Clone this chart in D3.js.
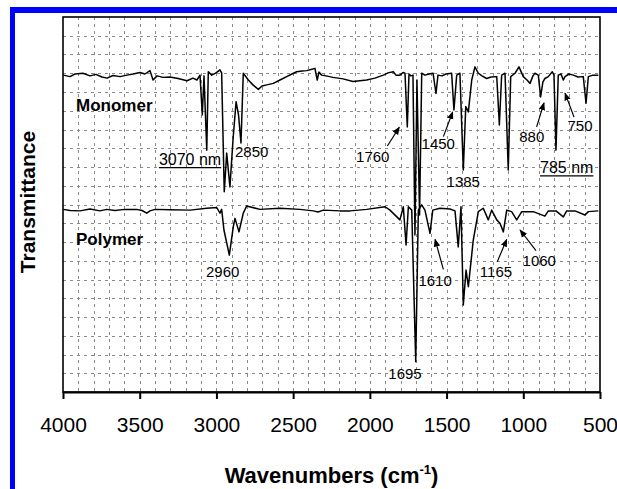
<!DOCTYPE html>
<html><head><meta charset="utf-8">
<script src="https://cdn.jsdelivr.net/npm/d3@7"></script>
<style>
body{margin:0;background:#fff;}
svg{display:block;}
text{font-family:Arial,"Liberation Sans",sans-serif;fill:#000;}
</style></head>
<body>
<svg id="c" width="617" height="489"></svg>
<script>
// ---- data (wavenumber on the drawn axis, transmittance in arbitrary units 0-100) ----
const xTicks = [4000,3500,3000,2500,2000,1500,1000,500];
const xTickLabels = ["4000","3500","3000","2500","2000","1500","1000","500"];
const seriesNames = ["Monomer","Polymer"];

const monomerWn = [3998,3954,3922,3870,3824,3785,3746,3713,3674,3628,3583,3544,3498,3466,3433,3413,3387,3348,3303,3250,3192,3153,3127,3107,3092,3081,3063,3053,3031,3003,2977,2966,2949,2933,2912,2892,2872,2856,2840,2825,2792,2762,2727,2703,2672,2629,2586,2542,2508,2477,2442,2412,2384,2358,2343,2332,2314,2286,2240,2175,2110,2021,1967,1912,1882,1847,1830,1804,1784,1771,1756,1745,1732,1719,1706,1693,1676,1662,1641,1615,1588,1569,1556,1530,1504,1467,1452,1434,1413,1391,1375,1358,1336,1315,1293,1269,1239,1210,1173,1156,1141,1119,1098,1082,1054,1028,1000,976,956,937,924,902,887,872,859,837,811,800,787,772,754,739,728,702,674,643,609,591,576,546,511];
const monomerT = [84.5,84.1,84.8,85.0,84.3,84.7,84.0,83.7,84.4,84.1,84.5,84.8,85.2,84.8,85.7,83.2,84.3,83.9,84.0,83.6,83.0,83.7,83.2,84.5,73.9,84.3,64.5,85.4,84.5,85.1,85.9,85.1,53.4,63.7,54.7,67.2,77.4,73.9,66.4,85.0,83.2,81.9,80.7,81.6,81.9,82.3,83.2,84.1,84.8,85.4,85.6,85.7,86.0,86.3,83.2,85.3,84.5,84.3,83.9,83.5,82.8,83.2,83.7,84.5,85.1,85.4,84.5,84.5,85.2,85.0,70.7,84.8,84.3,84.5,41.9,83.2,47.2,85.0,84.5,84.8,85.0,79.6,84.5,84.3,84.8,85.0,75.2,84.5,85.0,59.2,76.1,74.7,83.2,86.7,85.0,84.3,83.6,84.0,84.1,71.2,84.5,85.0,59.2,84.1,85.0,86.7,84.1,83.2,82.3,84.3,85.0,84.5,78.7,82.7,83.6,84.1,85.4,84.5,64.5,84.5,84.8,83.2,84.1,84.8,84.5,84.0,84.1,77.0,84.1,84.5,84.5];

const polymerWn = [3998,3954,3889,3824,3759,3715,3661,3596,3520,3485,3454,3433,3400,3303,3172,3063,2998,2977,2966,2951,2916,2890,2879,2853,2825,2803,2716,2586,2456,2369,2338,2303,2195,2129,2021,1901,1869,1804,1782,1764,1749,1727,1701,1684,1662,1641,1608,1590,1543,1478,1445,1424,1406,1391,1373,1358,1326,1293,1261,1228,1206,1173,1152,1130,1108,1076,1043,1010,935,859,837,787,739,717,663,598,576,511];
const polymerT = [48.7,48.4,48.3,48.8,48.3,48.7,48.4,48.7,48.7,48.4,47.7,48.3,48.7,48.6,48.5,49.0,49.2,47.7,48.7,43.2,36.5,44.1,46.3,42.7,47.7,49.6,48.7,49.0,48.7,48.3,48.0,48.5,48.3,48.3,48.7,49.4,48.5,45.9,49.4,39.2,49.4,48.5,8.1,48.5,49.9,48.5,42.3,48.5,49.0,48.8,48.3,38.7,49.4,23.2,32.5,28.1,40.5,48.1,49.0,45.9,48.5,45.9,45.0,42.7,48.5,48.1,45.9,48.1,48.1,46.9,48.3,48.3,46.7,48.3,48.3,47.2,48.1,48.3];

// peak labels: text, wavenumber position, transmittance position (baseline), underlined?
const peakText = ["3070 nm","2850","2960","1760","1450","1385","880","750","785 nm","1610","1165","1060","1695"];
const peakWn   = [3172,2770,2959,1981,1554,1391,945,630,717,1575,1178,896,1771];
const peakT    = [60.5,62.7,30.7,61.3,64.7,54.7,66.8,69.5,58.3,28.4,30.7,33.7,3.6];
const peakUnder= [true,false,false,false,false,false,false,false,true,false,false,false,false];

// arrows: start (wn,T) -> tip (wn,T)
const arrowFromWn = [1886,1521,913,669,1521,1170,917];
const arrowFromT  = [65.6,68.1,70.7,73.3,32.7,34.7,37.7];
const arrowToWn   = [1808,1460,865,728,1575,1108,1021];
const arrowToT    = [70.6,74.7,77.1,79.7,40.7,40.7,43.2];

// series label anchor
const nameWn = [3915,3915];
const nameT  = [74.9,39.2];

// ---- drawing ----
const svg = d3.select("#c");
const L=63, R=600, T=17, B=392;
const x = d3.scaleLinear().domain([4000,500]).range([L,R]);
const y = d3.scaleLinear().domain([0,100]).range([B,T]);

// blue border
svg.append("rect").attr("x",10).attr("y",7).attr("width",607).attr("height",6).attr("fill","#0000ff");
svg.append("rect").attr("x",10).attr("y",7).attr("width",5).attr("height",482).attr("fill","#0000ff");

// grid
const gx = d3.range(3900,500,-100);
const gy = d3.range(5,100,5);
const grid = svg.append("g").attr("stroke","#8a8a8a").attr("stroke-width",1).attr("stroke-dasharray","3,4");
grid.selectAll("line.v").data(gx).join("line").attr("class","v")
  .attr("x1",d=>Math.round(x(d))+0.5).attr("x2",d=>Math.round(x(d))+0.5).attr("y1",T).attr("y2",B);
grid.selectAll("line.h").data(gy).join("line").attr("class","h")
  .attr("y1",d=>Math.round(y(d))+0.5).attr("y2",d=>Math.round(y(d))+0.5).attr("x1",L).attr("x2",R);

// frame
svg.append("rect").attr("x",L).attr("y",T).attr("width",R-L).attr("height",B-T)
  .attr("fill","none").attr("stroke","#000").attr("stroke-width",1.6);

// x axis
const ax = svg.append("g").attr("transform",`translate(0,${B})`)
  .call(d3.axisBottom(x).tickValues(xTicks).tickFormat((d,i)=>xTickLabels[i]).tickSizeInner(7).tickSizeOuter(0).tickPadding(18));
ax.select(".domain").attr("stroke-width",2.2);
ax.selectAll(".tick line").attr("stroke-width",2);
ax.selectAll(".tick text").attr("font-size",21).attr("font-family","Arial, 'Liberation Sans', sans-serif");

// curves
const line = d3.line().x(d=>x(d[0])).y(d=>y(d[1]));
const mData = monomerWn.map((w,i)=>[w,monomerT[i]]);
const pData = polymerWn.map((w,i)=>[w,polymerT[i]]);
svg.append("path").datum(mData).attr("d",line).attr("fill","none").attr("stroke","#000").attr("stroke-width",1.5).attr("stroke-linejoin","round");
svg.append("path").datum(pData).attr("d",line).attr("fill","none").attr("stroke","#000").attr("stroke-width",1.5).attr("stroke-linejoin","round");

// series names
svg.selectAll("text.sn").data(seriesNames).join("text").attr("class","sn")
  .attr("x",(d,i)=>x(nameWn[i])).attr("y",(d,i)=>y(nameT[i]))
  .attr("font-size",17).attr("font-weight","bold").text(d=>d);

// peak labels
const pl = svg.selectAll("g.pk").data(peakText).join("g").attr("class","pk");
pl.append("text").attr("x",(d,i)=>x(peakWn[i])).attr("y",(d,i)=>y(peakT[i]))
  .attr("text-anchor","middle").attr("font-size",(d,i)=>peakUnder[i]?16:15).text(d=>d);
pl.filter((d,i)=>peakUnder[i]).each(function(d){
  const i = peakText.indexOf(d);
  const t = d3.select(this).select("text").node().getBBox();
  d3.select(this).append("line").attr("x1",t.x).attr("x2",t.x+t.width)
    .attr("y1",y(peakT[i])+2.5).attr("y2",y(peakT[i])+2.5).attr("stroke","#000").attr("stroke-width",1.2);
});

// arrows
svg.append("defs").append("marker").attr("id","ah").attr("viewBox","0 0 10 10")
  .attr("refX",9).attr("refY",5).attr("markerWidth",8).attr("markerHeight",8)
  .attr("markerUnits","userSpaceOnUse").attr("orient","auto")
  .append("path").attr("d","M0,1L10,5L0,9Z").attr("fill","#000");
svg.selectAll("line.ar").data(arrowFromWn).join("line").attr("class","ar")
  .attr("x1",(d,i)=>x(arrowFromWn[i])).attr("y1",(d,i)=>y(arrowFromT[i]))
  .attr("x2",(d,i)=>x(arrowToWn[i])).attr("y2",(d,i)=>y(arrowToT[i]))
  .attr("stroke","#000").attr("stroke-width",1.2).attr("marker-end","url(#ah)");

// axis titles
const xt = svg.append("text").attr("x",(L+R)/2).attr("y",483).attr("text-anchor","middle")
  .attr("font-size",22).attr("font-weight","bold");
xt.append("tspan").text("Wavenumbers (cm");
xt.append("tspan").attr("font-size",13).attr("dy",-9).text("-1");
xt.append("tspan").attr("dy",9).text(")");

svg.append("text").attr("transform","translate(35,202) rotate(-90)").attr("text-anchor","middle")
  .attr("font-size",21).attr("font-weight","bold").text("Transmittance");
</script>
</body></html>
